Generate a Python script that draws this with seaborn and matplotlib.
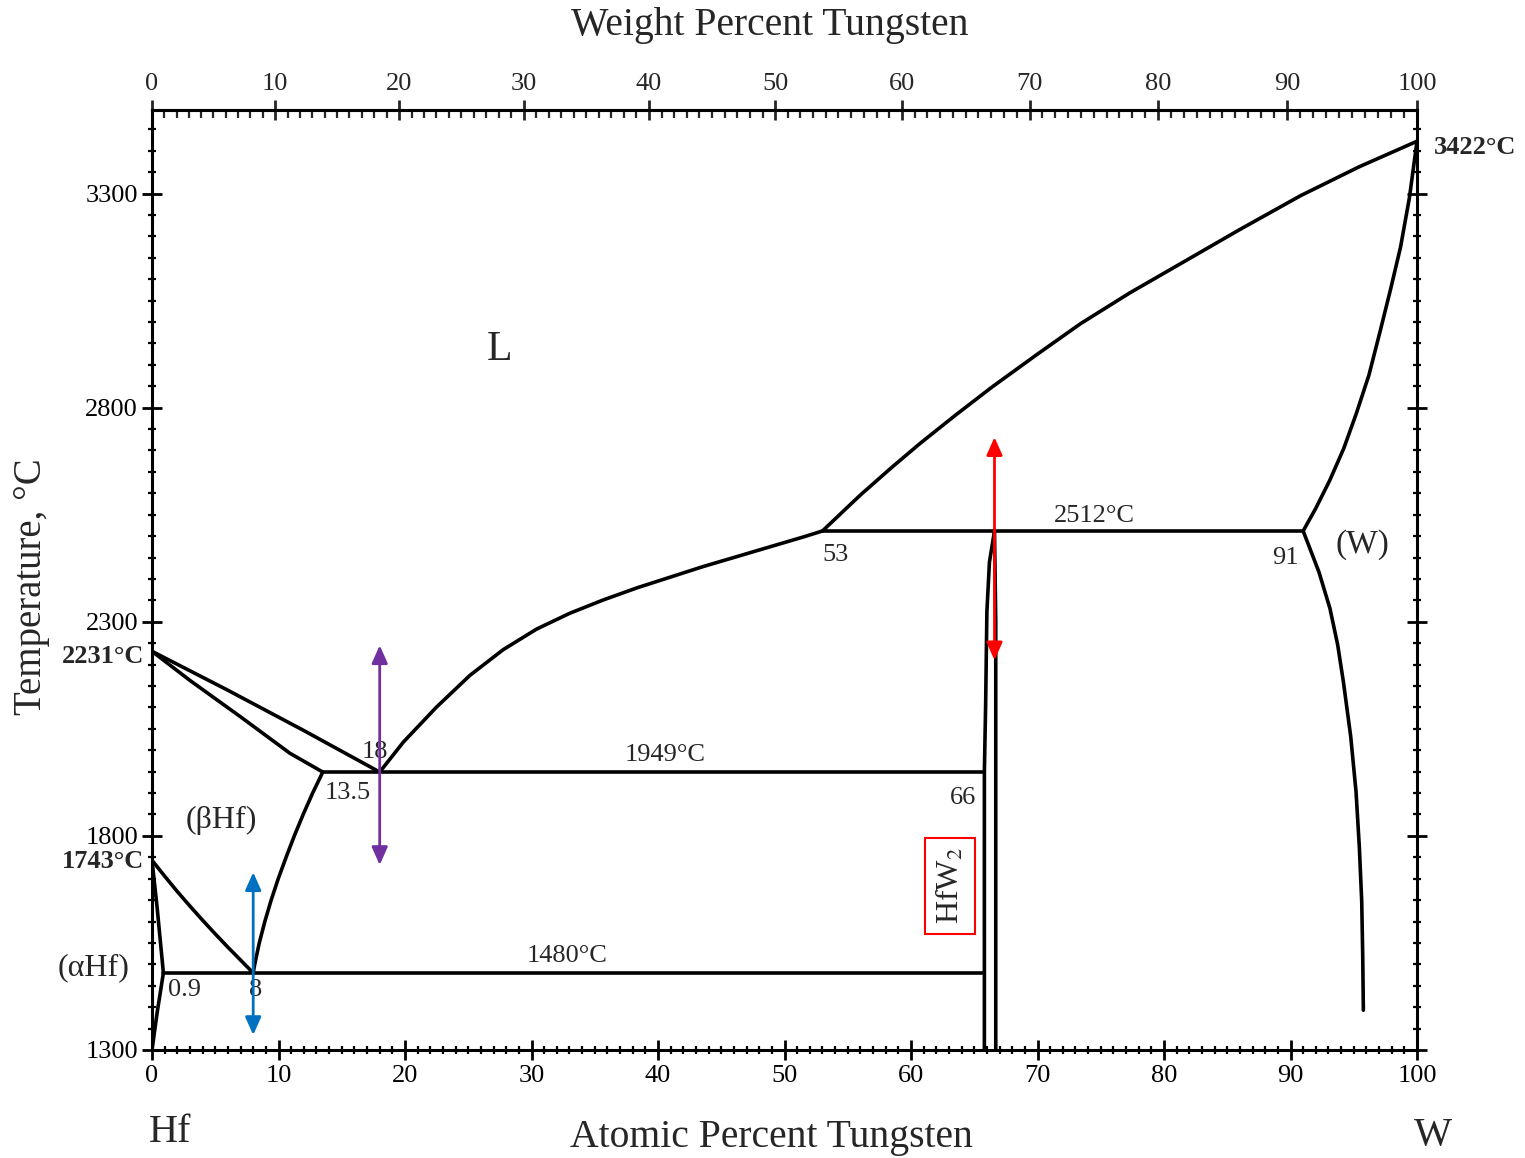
import matplotlib
matplotlib.use("Agg")
import matplotlib.pyplot as plt
import numpy as np
import pandas as pd
import seaborn as sns
from matplotlib.ticker import MultipleLocator

# Hf-W phase boundaries, atomic % W vs temperature (deg C)
liq_hf_x = [0, 6, 12, 18]
liq_hf_t = [2231, 2140, 2046, 1949]
sol_bhf_x = [0, 3.0, 7.0, 10.9, 13.5]
sol_bhf_t = [2231, 2163, 2078, 1993, 1949]
solv_bhf_x = [13.5, 12.7, 11.95, 11.25, 10.6, 9.98, 9.42, 8.92, 8.48, 8.12, 8.0]
solv_bhf_t = [1949, 1900, 1850, 1800, 1750, 1700, 1650, 1600, 1550, 1500, 1480]
trans_bhf_x = [0, 1, 2, 3, 4, 5, 6, 7, 8]
trans_bhf_t = [1743, 1706, 1670, 1636, 1603, 1571, 1540, 1510, 1480]
ahf_x = [0, 0.4, 0.9, 0.4, 0]
ahf_t = [1743, 1634, 1480, 1386, 1300]
liq_mid_x = [18, 19.87, 22.5, 25.14, 27.77, 30.41, 33.04, 35.68, 38.32, 40.95,
             43.58, 46.22, 48.85, 51.49, 53]
liq_mid_t = [1949, 2019, 2101, 2175, 2235, 2283, 2320, 2351, 2379, 2404,
             2429, 2452, 2475, 2498, 2512]
liq_w_x = [53, 56, 58.5, 60.7, 63.5, 66.4, 70, 73.4, 77.3, 81.3, 86, 90.8, 95.4, 100]
liq_w_t = [2512, 2596, 2661, 2716, 2782, 2848, 2925, 2996, 3068, 3136, 3216, 3295, 3362, 3422]
sol_w_x = [91, 92, 93.1, 94.2, 95.2, 96.2, 97.1, 97.9, 98.7, 99.4, 100]
sol_w_t = [2512, 2565, 2630, 2704, 2786, 2876, 2980, 3075, 3175, 3290, 3422]
solv_w_x = [91, 92.25, 93.12, 93.73, 94.18, 94.76, 95.18, 95.44, 95.63, 95.71, 95.76]
solv_w_t = [2512, 2416, 2331, 2246, 2160, 2032, 1903, 1775, 1647, 1519, 1393]
hfw2_left_x = [65.8, 65.8, 65.9, 66.0, 66.2, 66.6]
hfw2_left_t = [1300, 1949, 2106, 2324, 2439, 2512]
hfw2_right_x = [66.7, 66.7, 66.7, 66.6]
hfw2_right_t = [1300, 2000, 2300, 2512]

# invariant lines
iso_t = [1480, 1949, 2512]
iso_x0 = [0.9, 13.5, 53]
iso_x1 = [65.8, 65.8, 91]

# highlighted compositions (double arrows)
arrow_x = [18, 8, 66.6]
arrow_lo = [1732, 1335, 2210]
arrow_hi = [2245, 1715, 2731]
arrow_colors = ["#7030A0", "#0070C0", "#FF0000"]

temp_ticks = [1300, 1800, 2300, 2800, 3300]

M_HF, M_W = 178.49, 183.84


def at_to_wt(a):
    a = np.asarray(a, dtype=float)
    return 100 * a * M_W / (a * M_W + (100 - a) * M_HF)


def wt_to_at(w):
    w = np.asarray(w, dtype=float)
    return 100 * (w / M_W) / (w / M_W + (100 - w) / M_HF)


curves = [
    (liq_hf_x, liq_hf_t), (sol_bhf_x, sol_bhf_t), (solv_bhf_x, solv_bhf_t),
    (trans_bhf_x, trans_bhf_t), (ahf_x, ahf_t), (liq_mid_x, liq_mid_t),
    (liq_w_x, liq_w_t), (sol_w_x, sol_w_t), (solv_w_x, solv_w_t),
    (hfw2_left_x, hfw2_left_t), (hfw2_right_x, hfw2_right_t),
]
for t, x0, x1 in zip(iso_t, iso_x0, iso_x1):
    curves.append(([x0, x1], [t, t]))

frames = []
for i, (xs, ts) in enumerate(curves):
    frames.append(pd.DataFrame({"x": xs, "T": ts, "seg": i}))
df = pd.concat(frames, ignore_index=True)

sns.set_theme(style="ticks")
plt.rcParams["font.family"] = ["Liberation Serif", "DejaVu Serif"]
plt.rcParams["mathtext.fontset"] = "stix"

W, H = 1525, 1158
fig = plt.figure(figsize=(W / 100, H / 100), dpi=100)
ax = fig.add_axes([152 / W, 1 - 1050 / H, (1417 - 152) / W, (1050 - 110) / H])

sns.lineplot(data=df, x="x", y="T", units="seg", estimator=None, sort=False,
             color="black", lw=2.6, ax=ax, legend=False)

ax.set_xlim(0, 100)
ax.set_ylim(1300, 3495)
ax.set_xlabel("")
ax.set_ylabel("")
for s in ax.spines.values():
    s.set_linewidth(2.2)
    s.set_color("black")

ax.xaxis.set_major_locator(MultipleLocator(10))
ax.xaxis.set_minor_locator(MultipleLocator(1))
ax.set_yticks(temp_ticks)
ax.yaxis.set_minor_locator(MultipleLocator(50))
ax.tick_params(axis="both", which="major", direction="inout", length=14, width=2,
               labelsize=19, color="black", labelcolor="black")
ax.tick_params(axis="x", which="major", pad=4)
ax.tick_params(axis="y", which="major", pad=3)
ax.tick_params(axis="both", which="minor", direction="inout", length=6, width=1.6, color="black")
ax.tick_params(axis="y", which="both", right=True, labelright=False)
ax.tick_params(axis="x", which="both", top=False)

top = ax.secondary_xaxis("top", functions=(at_to_wt, wt_to_at))
top.set_xticks(np.arange(0, 101, 10))
top.xaxis.set_minor_locator(MultipleLocator(1))
top.tick_params(which="major", direction="inout", length=14, width=2, labelsize=19, pad=4)
top.tick_params(which="minor", direction="in", length=6, width=1.6)
top.spines["top"].set_linewidth(2.2)

# region and point labels
ax.text(27.5, 2934, "L", fontsize=30, ha="center", va="center")
ax.text(5.5, 1837, "(βHf)", fontsize=23, ha="center", va="center")
ax.text(-4.6, 1491, "(αHf)", fontsize=23, ha="center", va="center", clip_on=False)
ax.text(95.7, 2479, "(W)", fontsize=24, ha="center", va="center")
ax.text(101.3, 3407, "3422°C", fontsize=19, fontweight="bold", ha="left", va="center", clip_on=False)
ax.text(-0.6, 2219, "2231°C", fontsize=19, fontweight="bold", ha="right", va="center", clip_on=False)
ax.text(-0.6, 1739, "1743°C", fontsize=19, fontweight="bold", ha="right", va="center", clip_on=False)

small = dict(fontsize=19, ha="center", va="center")
ax.text(54.0, 2455, "53", **small)
ax.text(89.6, 2448, "91", **small)
ax.text(74.5, 2546, "2512°C", **small)
ax.text(40.6, 1990, "1949°C", **small)
ax.text(17.6, 1997, "18", **small)
ax.text(15.5, 1900, "13.5", **small)
ax.text(64.1, 1888, "66", **small)
ax.text(32.8, 1519, "1480°C", **small)
ax.text(2.6, 1440, "0.9", **small)
ax.text(8.2, 1440, "8", **small)
ax.text(63.1, 1683, "HfW$_2$", fontsize=23, rotation=90, ha="center", va="center",
        bbox=dict(boxstyle="square,pad=0.3", fc="none", ec="red", lw=1.5))

for x, lo, hi, c in zip(arrow_x, arrow_lo, arrow_hi, arrow_colors):
    ax.annotate("", xy=(x, hi), xytext=(x, lo),
                arrowprops=dict(arrowstyle="<|-|>,head_length=0.9,head_width=0.4",
                                color=c, lw=2, shrinkA=0, shrinkB=0))

fig.text(770 / W, 1 - 25 / H, "Weight Percent Tungsten", fontsize=28.5, ha="center", va="center")
fig.text(771 / W, 1 - 1137 / H, "Atomic Percent Tungsten", fontsize=28.5, ha="center", va="center")
fig.text(170 / W, 1 - 1133 / H, "Hf", fontsize=29, ha="center", va="center")
fig.text(1433 / W, 1 - 1135 / H, "W", fontsize=29, ha="center", va="center")
fig.text(32 / W, 1 - 587 / H, "Temperature, °C", fontsize=28, rotation=90, ha="center", va="center")

fig.savefig("out.png", dpi=100, facecolor="white")
